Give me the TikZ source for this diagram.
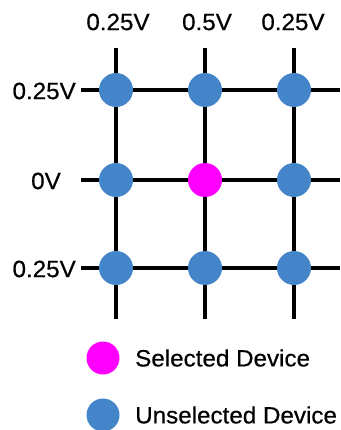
\documentclass[tikz,border=0pt]{standalone}
\usepackage{fontspec}
\setmainfont{Liberation Sans}[FakeStretch=1.03,FakeBold=0.5]
\definecolor{devblue}{HTML}{4484C8}
\definecolor{devmag}{HTML}{FF00FF}
\begin{document}
\begin{tikzpicture}[x=1pt,y=-1pt,
  wire/.style={line width=3.5pt,black},
  dev/.style={circle,fill=devblue,minimum size=34pt,inner sep=0pt},
  seldev/.style={circle,fill=devmag,minimum size=34pt,inner sep=0pt},
  lbl/.style={font=\fontsize{23.5}{27}\selectfont,inner sep=0pt}]
\useasboundingbox (0,0) rectangle (340,430);
% wire end points
\coordinate (t1) at (116,48); \coordinate (b1) at (116,319);
\coordinate (t2) at (205,48); \coordinate (b2) at (205,319);
\coordinate (t3) at (294,48); \coordinate (b3) at (294,319);
\coordinate (l1) at (81,90);  \coordinate (r1) at (340,90);
\coordinate (l2) at (81,180); \coordinate (r2) at (340,180);
\coordinate (l3) at (81,268); \coordinate (r3) at (340,268);
\draw[wire] (t1) -- (b1);
\draw[wire] (t2) -- (b2);
\draw[wire] (t3) -- (b3);
\draw[wire] (l1) -- (r1);
\draw[wire] (l2) -- (r2);
\draw[wire] (l3) -- (r3);
% devices
\node[dev] (d11) at (116,90) {};
\node[dev] (d12) at (205,90) {};
\node[dev] (d13) at (294,90) {};
\node[dev] (d21) at (116,180) {};
\node[seldev] (d22) at (205,180) {};
\node[dev] (d23) at (294,180) {};
\node[dev] (d31) at (116,268) {};
\node[dev] (d32) at (205,268) {};
\node[dev] (d33) at (294,268) {};
% column labels
\node[lbl] (c1) at (118,22) {0.25V};
\node[lbl] (c2) at (207,22) {0.5V};
\node[lbl] (c3) at (293,22) {0.25V};
% row labels
\node[lbl,anchor=east] (rl1) at (76,91) {0.25V};
\node[lbl] (rl2) at (46,181) {0V};
\node[lbl,anchor=east] (rl3) at (76,269) {0.25V};
% legend
\node[seldev,minimum size=33pt] (ls) at (103,358) {};
\node[lbl,anchor=west] (lst) at (135,358) {Selected Device};
\node[dev,minimum size=33pt] (lu) at (103,415) {};
\node[lbl,anchor=west] (lut) at (135,415) {Unselected Device};
\end{tikzpicture}
\end{document}
